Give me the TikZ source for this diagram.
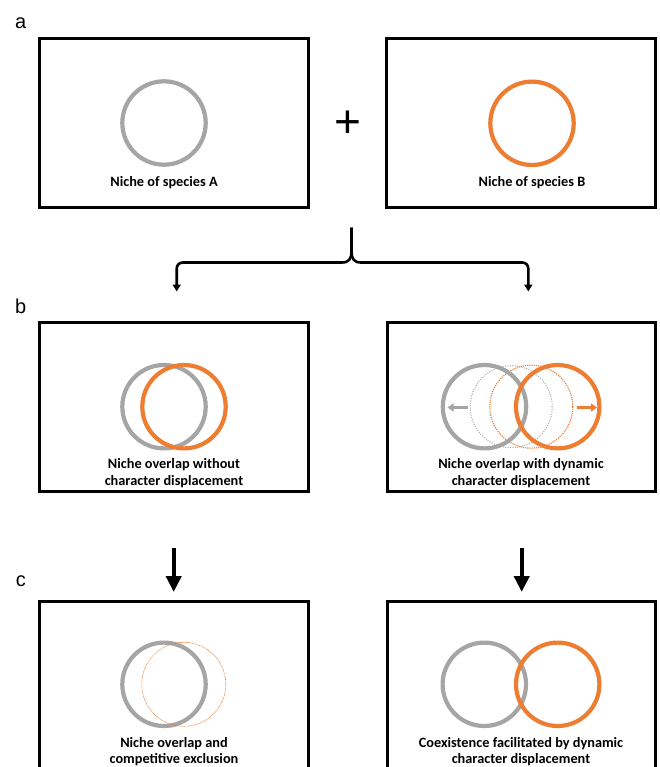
\documentclass[tikz,border=0pt]{standalone}
\usepackage{fontspec}
\setmainfont{Carlito}
\newfontfamily\arialf{Liberation Sans}
\usetikzlibrary{arrows.meta}
\definecolor{nichegray}{HTML}{A5A5A5}
\definecolor{nicheorange}{HTML}{ED7D31}
\begin{document}
\begin{tikzpicture}[x=1pt,y=-1pt,
  panel/.style={draw=black, line width=3pt, minimum width=268.5pt, minimum height=169pt, inner sep=0pt},
  niche/.style={circle, draw, line width=4.2pt, minimum size=83.4pt, inner sep=0pt},
  ghostgray/.style={circle, draw=nichegray, line width=1pt, dash pattern=on 1pt off 1.4pt, minimum size=82pt, inner sep=0pt},
  ghostorange/.style={circle, draw=nicheorange, line width=1.2pt, dash pattern=on 1.1pt off 1.1pt, minimum size=83pt, inner sep=0pt},
  faintorange/.style={circle, draw=nicheorange, line width=0.6pt, dash pattern=on 0.8pt off 0.7pt, minimum size=84pt, inner sep=0pt},
  caption/.style={font=\bfseries\fontsize{14.3}{16.3}\selectfont, align=center, anchor=base, inner sep=0pt},
  letter/.style={font=\arialf\fontsize{20}{24}\selectfont, anchor=base, inner sep=0pt},
  plussign/.style={font=\arialf\fontsize{46}{50}\selectfont, inner sep=0pt},
  bracearrow/.style={line width=2.6pt, -{Triangle[length=7pt,width=8pt]}},
  bigarrow/.style={line width=4pt, -{Triangle[length=16pt,width=15pt]}},
  shiftarrow/.style={line width=2.6pt, -{Triangle[length=6pt,width=8pt]}}
]
\useasboundingbox (0,0) rectangle (659,767);
\clip (0,0) rectangle (659,767);

% panel letters
\node[letter] (la) at (20.8,28.3) {a};
\node[letter] (lb) at (20.8,313.3) {b};
\node[letter] (lc) at (20.8,586.7) {c};

% panel a
\node[panel] (pA) at (173.75,123) {};
\node[panel] (pB) at (521,123.5) {};
\node[niche, draw=nichegray] (cA) at (164,123) {};
\node[niche, draw=nicheorange] (cB) at (532,123.3) {};
\node[caption] (tA) at (164,186.3) {Niche of species A};
\node[caption] (tB) at (532,186.5) {Niche of species B};
\node[plussign] (plus) at (347.5,124.7) {+};

% brace with two arrows
\coordinate (stem) at (351.5,227.5);
\coordinate (tipL) at (176.7,291.5);
\coordinate (tipR) at (528.3,291.5);
\draw[bracearrow] (stem) -- (351.5,251) .. controls (351.5,259) and (349,262.5) .. (342,262.5)
  [rounded corners=6pt] -- (176.7,262.5) -- (tipL);
\draw[bracearrow] (stem) -- (351.5,251) .. controls (351.5,259) and (354,262.5) .. (361,262.5)
  [rounded corners=6pt] -- (528.3,262.5) -- (tipR);

% panel b
\node[panel] (pbL) at (173.75,407.2) {};
\node[panel] (pbR) at (521.5,407.3) {};
\node[niche, draw=nichegray] (bLg) at (164,406.7) {};
\node[niche, draw=nicheorange] (bLo) at (184,406.7) {};
\node[caption] (tbL) at (174,485.2) {Niche overlap without\\character displacement};

\node[ghostgray] (bRgd) at (511.2,406.7) {};
\node[ghostorange] (bRod) at (531.3,406.7) {};
\node[niche, draw=nichegray] (bRg) at (484.5,406.7) {};
\node[niche, draw=nicheorange] (bRo) at (557.7,406.7) {};
\coordinate (gs) at (468.3,407.5);
\coordinate (gt) at (447.5,407.5);
\coordinate (os) at (576.7,407.5);
\coordinate (ot) at (597,407.5);
\draw[shiftarrow, draw=nichegray, fill=nichegray] (gs) -- (gt);
\draw[shiftarrow, draw=nicheorange, fill=nicheorange] (os) -- (ot);
\node[caption] (tbR) at (521,485.2) {Niche overlap with dynamic\\character displacement};

% arrows b -> c
\coordinate (aLs) at (173.7,547.5);
\coordinate (aLt) at (173.7,592);
\coordinate (aRs) at (521.7,547.5);
\coordinate (aRt) at (521.7,592);
\draw[bigarrow] (aLs) -- (aLt);
\draw[bigarrow] (aRs) -- (aRt);

% panel c
\node[panel] (pcL) at (173.75,685.5) {};
\node[panel] (pcR) at (521.5,685.5) {};
\node[niche, draw=nichegray] (cLg) at (164,684.3) {};
\node[faintorange] (cLo) at (183.8,684.3) {};
\node[caption] (tcL) at (174,763.4) {Niche overlap and\\competitive exclusion};
\node[niche, draw=nichegray] (cRg) at (484.3,684.3) {};
\node[niche, draw=nicheorange] (cRo) at (557.7,684.3) {};
\node[caption] (tcR) at (521,763.4) {Coexistence facilitated by dynamic\\character displacement};
\end{tikzpicture}
\end{document}
